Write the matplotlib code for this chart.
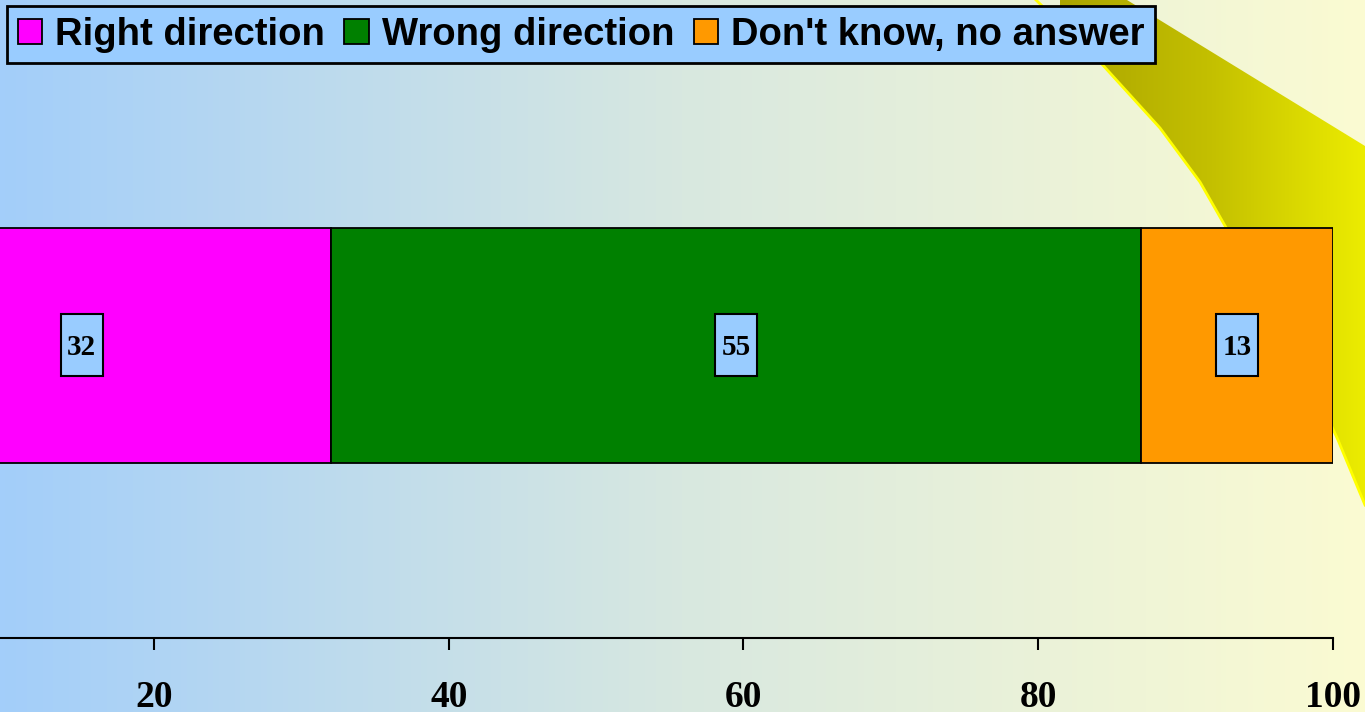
import numpy as np
import matplotlib
matplotlib.use('Agg')
from matplotlib import pyplot as plt
from matplotlib.patches import Polygon, Rectangle
from matplotlib.colors import LinearSegmentedColormap

# data
categories = ['Right direction', 'Wrong direction', "Don't know, no answer"]
values = [32, 55, 13]
colors = ['#ff00ff', '#008000', '#ff9900']
ticks = [20, 40, 60, 80, 100]

# where the value boxes sit (first one is centred on the visible part)
label_x = [15.1, 59.5, 93.5]

W, H = 1365, 712
fig = plt.figure(figsize=(W / 100, H / 100), dpi=100)

# background: blue -> pale yellow gradient, with yellow swoosh at right
bg = fig.add_axes([0, 0, 1, 1], zorder=-1)
bg.set_xlim(0, W)
bg.set_ylim(H, 0)
bg.axis('off')
grad = LinearSegmentedColormap.from_list('bg', ['#a3cefa', '#d8e8e0', '#fbfbd2'])
bg.imshow(np.linspace(0, 1, 256)[None, :], cmap=grad, aspect='auto',
          extent=[0, W, H, 0], zorder=0)

left_edge = [(1036, 0), (1100, 62), (1160, 128), (1200, 182), (1236, 245),
             (1275, 315), (1308, 375), (1338, 440), (1365, 505)]
swoosh = [(1127, 0), (1365, 146)] + left_edge[::-1]
poly = Polygon(swoosh, closed=True, facecolor='none', edgecolor='none')
bg.add_patch(poly)
ycmap = LinearSegmentedColormap.from_list('sw', ['#aaa400', '#c4c000', '#ecec00'])
im = bg.imshow(np.linspace(0, 1, 256)[None, :], cmap=ycmap, aspect='auto',
               extent=[1060, W, H, 0], zorder=1)
im.set_clip_path(poly)
xs, ys = zip(*left_edge)
bg.plot(xs, ys, color='#ffff00', lw=2, zorder=2)

# main chart, the axis starts off the left edge of the picture
ax = fig.add_axes([-140.8 / W, 74 / H, 1473.8 / W, 638 / H])
ax.patch.set_alpha(0)
ax.set_xlim(0, 100)
ax.set_ylim(-1.245, 1.47)

left = 0
for cat, v, c, lx in zip(categories, values, colors, label_x):
    ax.barh(0, v, left=left, height=1.0, color=c, edgecolor='black', lw=1.3, label=cat)
    ax.add_patch(Rectangle((lx - 1.43, -0.132), 2.86, 0.264, facecolor='#99ccff',
                           edgecolor='black', lw=1.5, zorder=3))
    ax.text(lx, -0.01, str(v), ha='center', va='center', fontsize=21,
            fontfamily='Liberation Serif', fontweight='bold', zorder=4)
    left += v

for s in ['top', 'left', 'right']:
    ax.spines[s].set_visible(False)
ax.spines['bottom'].set_linewidth(1.5)
ax.set_yticks([])
ax.set_xticks(ticks)
ax.tick_params(axis='x', direction='out', length=8.5, width=1.5, pad=22)
for lab in ax.get_xticklabels():
    lab.set_fontfamily('Liberation Serif')
    lab.set_fontweight('bold')
    lab.set_fontsize(27)

leg = fig.legend(loc='upper left', bbox_to_anchor=(7 / W, 1 - 6 / H), ncol=3,
                 frameon=True, fancybox=False, framealpha=1, facecolor='#99ccff',
                 edgecolor='black', handlelength=0.63, handleheight=0.63,
                 handletextpad=0.34, columnspacing=0.52, borderpad=0.28,
                 borderaxespad=0,
                 prop={'family': 'Liberation Sans', 'weight': 'bold', 'size': 27.5})
leg.get_frame().set_linewidth(2)

fig.savefig('out.png', dpi=100)
